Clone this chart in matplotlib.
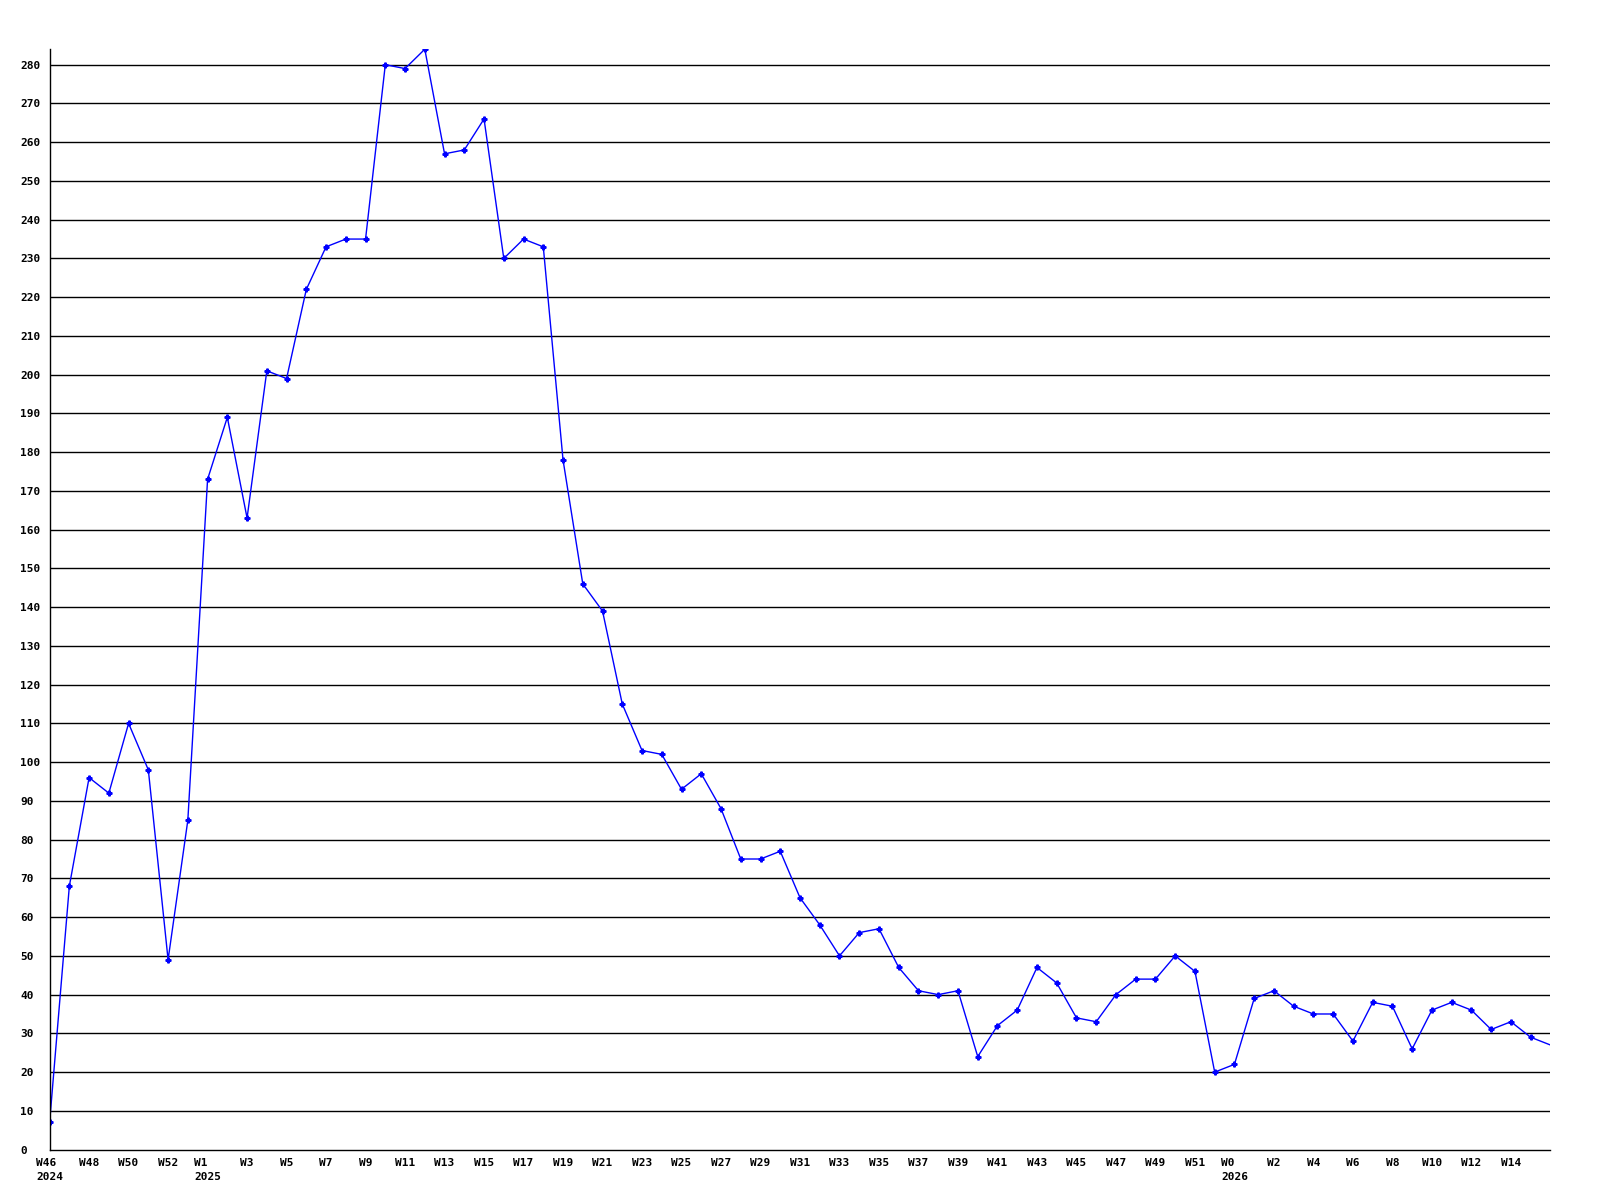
import matplotlib.pyplot as plt
import numpy as np

# weekly counts, 2024 W46 .. 2026 W16
years = [2024] * 7 + [2025] * 53 + [2026] * 17
weeks = list(range(46, 53)) + list(range(0, 53)) + list(range(0, 17))
values = [
    7, 68, 96, 92, 110, 98, 49, 85, 173, 189,
    163, 201, 199, 222, 233, 235, 235, 280, 279, 284,
    257, 258, 266, 230, 235, 233, 178, 146, 139, 115,
    103, 102, 93, 97, 88, 75, 75, 77, 65, 58,
    50, 56, 57, 47, 41, 40, 41, 24, 32, 36,
    47, 43, 34, 33, 40, 44, 44, 50, 46, 20,
    22, 39, 41, 37, 35, 35, 28, 38, 37, 26,
    36, 38, 36, 31, 33, 29, 27,
]
y_ticks = list(range(0, 290, 10))

font = {"family": "DejaVu Sans Mono", "weight": "bold", "size": 8}

fig = plt.figure(figsize=(16, 12), dpi=100)
ax = fig.add_axes([0.031, 0.042, 0.938, 0.917])

x = np.arange(len(values))
ax.plot(x, values, color="#0000ff", linewidth=1.0, marker="P", markersize=3.5,
        markevery=list(range(len(values) - 1)))

ax.set_xlim(0, len(values) - 1)
ax.set_ylim(0, max(values))

ax.set_yticks(y_ticks)
ax.set_yticklabels([str(v) for v in y_ticks], fontdict=font, ha="left")
for v in y_ticks[1:]:
    ax.axhline(v, color="black", linewidth=1.0, zorder=0)

# every second week gets a label, the last point has none
tick_idx = list(range(0, len(values) - 1, 2))
labels = []
seen_years = set()
for i in tick_idx:
    lab = f"W{weeks[i]}"
    if years[i] not in seen_years:
        seen_years.add(years[i])
        lab += f"\n{years[i]}"
    labels.append(lab)
ax.set_xticks(tick_idx)
ax.set_xticklabels(labels, fontdict=font, ha="center", multialignment="left",
                   linespacing=1.5)

ax.tick_params(axis="x", length=0, pad=6)
ax.tick_params(axis="y", length=0, pad=21)
for side in ["top", "right"]:
    ax.spines[side].set_visible(False)
for side in ["left", "bottom"]:
    ax.spines[side].set_linewidth(1.0)
    ax.spines[side].set_color("black")

fig.savefig("out.png", dpi=100)
